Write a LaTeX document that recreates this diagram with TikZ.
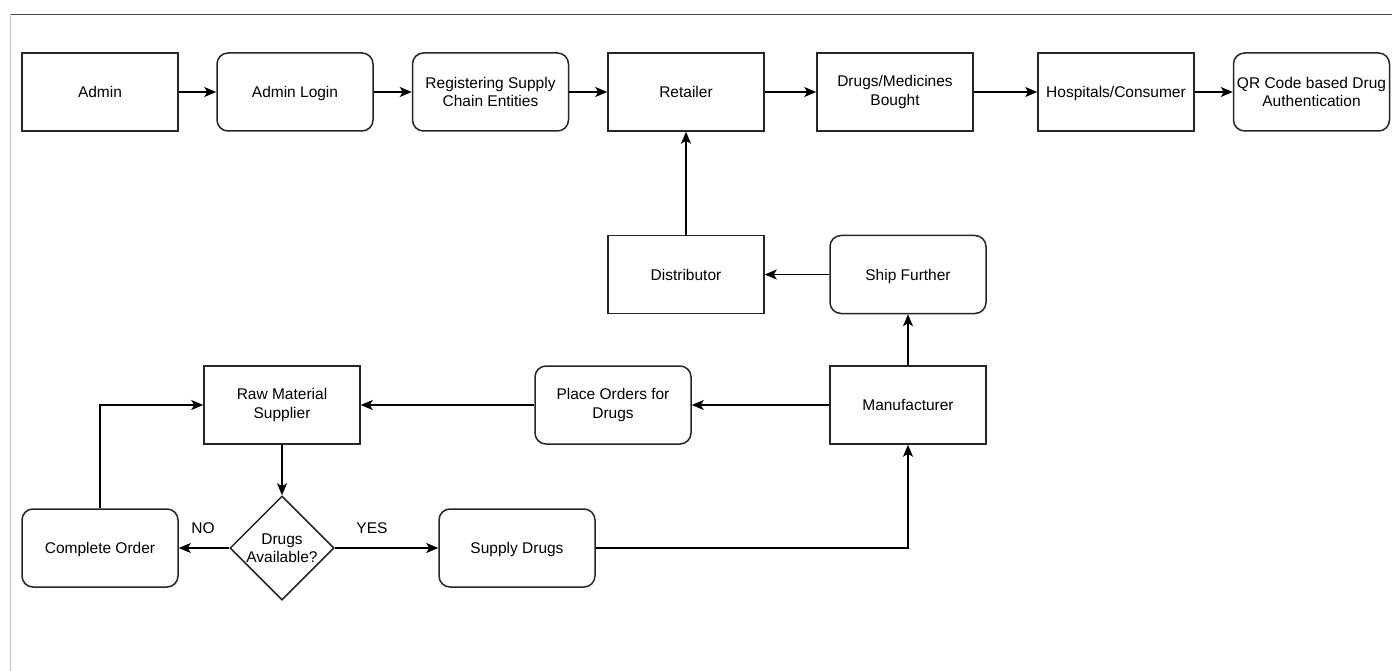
\documentclass[tikz,border=0pt]{standalone}
\usepackage{fontspec}
\setmainfont{Liberation Sans}
\usetikzlibrary{arrows.meta,shapes.geometric}
\begin{document}
\begin{tikzpicture}[x=1pt,y=-1pt,
  base/.style={draw=black!85,line width=1.5pt,minimum width=156pt,minimum height=78pt,align=center,inner sep=2pt,font=\fontsize{15.5}{18.5}\selectfont},
  one/.style={text height=14pt,text depth=3pt},
  sqbox/.style={base},
  rbox/.style={base,rounded corners=11pt},
  dec/.style={draw=black!85,line width=1.5pt,diamond,minimum width=104pt,minimum height=104pt,inner sep=0pt,align=center,font=\fontsize{15.5}{18.5}\selectfont},
  arr/.style={line width=1.5pt,draw=black,-{Stealth[length=12pt,width=10pt,inset=3pt]}},
  lbl/.style={font=\fontsize{15.5}{18.5}\selectfont}
]
\useasboundingbox (0,0) rectangle (1392,671);
\fill[white] (0,0) rectangle (1392,671);
\draw[black!70,line width=0.8pt] (10,14.5) -- (1392,14.5);
\draw[black!25,line width=0.8pt] (10,14.5) -- (10,671);

\node[sqbox,one] (admin) at (100,92) {Admin};
\node[rbox,one] (login) at (295,92) {Admin Login};
\node[rbox] (reg) at (490.5,92) {Registering Supply\\Chain Entities};
\node[sqbox,one] (ret) at (686,92) {Retailer};
\node[sqbox] (drugs) at (895,92) {Drugs/Medicines\\Bought};
\node[sqbox,one] (hosp) at (1116,92) {Hospitals/Consumer};
\node[rbox] (qr) at (1311.5,92) {QR Code based Drug\\Authentication};

\node[sqbox,one] (dist) at (686,274.5) {Distributor};
\node[rbox,one] (ship) at (908,274.5) {Ship Further};

\node[sqbox] (raw) at (282,405) {Raw Material\\Supplier};
\node[rbox] (place) at (613,405) {Place Orders for\\Drugs};
\node[sqbox,one] (man) at (908,405) {Manufacturer};

\node[rbox,one] (comp) at (100,548) {Complete Order};
\node[dec] (dia) at (282,548) {Drugs\\Available?};
\node[rbox,one] (sup) at (517,548) {Supply Drugs};

\draw[arr] (admin) -- (login);
\draw[arr] (login) -- (reg);
\draw[arr] (reg) -- (ret);
\draw[arr] (ret) -- (drugs);
\draw[arr] (drugs) -- (hosp);
\draw[arr] (hosp) -- (qr);
\draw[arr] (dist) -- (ret);
\draw[arr] (ship) -- (dist);
\draw[arr] (man) -- (ship);
\draw[arr] (man) -- (place);
\draw[arr] (place) -- (raw);
\draw[arr] (raw) -- (dia);
\draw[arr] (dia) -- (comp);
\draw[arr] (dia) -- (sup);
\draw[arr] (sup.east) -| (man.south);
\draw[arr] (comp.north) |- (raw.west);

\node[lbl] (no) at (203,528) {NO};
\node[lbl] (yes) at (372,528) {YES};
\end{tikzpicture}
\end{document}
